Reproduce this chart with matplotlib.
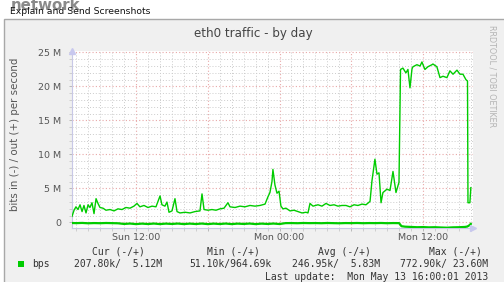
import matplotlib
matplotlib.use("Agg")
import matplotlib.pyplot as plt
from matplotlib.patches import Rectangle
from matplotlib.ticker import MultipleLocator, FixedLocator, FuncFormatter

# ---------------- data ----------------
# hours since Sun 00:00 ; values in Mbit/s
out_hours = [6.65, 6.82, 6.98, 7.15, 7.32, 7.49, 7.65, 7.82, 7.99, 8.15, 8.32, 8.49, 8.66,
             8.82, 8.99, 9.24, 9.49, 9.83, 10.16, 10.49, 10.83, 11.16, 11.50, 11.83, 12.08,
             12.33, 12.67, 13.00, 13.34, 13.67, 14.01, 14.17, 14.42, 14.59, 14.76, 15.01,
             15.26, 15.43, 15.68, 16.10, 16.52, 16.93, 17.35, 17.52, 17.69, 18.02, 18.35,
             18.69, 19.02, 19.36, 19.69, 19.86, 20.28, 20.70, 21.11, 21.53, 21.95, 22.37,
             22.79, 23.04, 23.20, 23.37, 23.45, 23.62, 23.79, 23.96, 24.12, 24.29, 24.54,
             24.88, 25.21, 25.55, 25.88, 26.21, 26.38, 26.55, 26.80, 27.22, 27.55, 27.89,
             28.22, 28.56, 28.89, 29.22, 29.56, 29.89, 30.23, 30.56, 30.90, 31.23, 31.57,
             31.73, 31.98, 32.15, 32.32, 32.49, 32.65, 32.99, 33.24, 33.49, 33.74, 33.99,
             34.12, 34.32, 34.57, 34.74, 34.91, 35.08, 35.16, 35.49, 35.75, 35.91, 36.16,
             36.41, 36.75, 36.83, 37.16, 37.42, 37.67, 38.00, 38.25, 38.51, 38.84, 39.09,
             39.34, 39.59, 39.72, 39.76, 39.92, 40.00]
out_mbps = [0.9, 1.8, 2.3, 1.9, 2.6, 1.6, 2.5, 1.4, 2.6, 2.2, 2.9, 1.3, 3.5,
            2.8, 2.2, 2.1, 1.8, 1.9, 1.7, 2.0, 1.9, 2.2, 2.1, 2.4, 2.8,
            2.3, 2.5, 2.2, 2.4, 2.3, 3.9, 2.6, 2.4, 3.0, 1.5, 1.7,
            3.5, 1.6, 1.4, 1.5, 1.4, 1.6, 1.7, 4.2, 1.9, 1.8, 1.9,
            1.8, 2.0, 2.1, 2.9, 2.3, 2.2, 2.4, 2.3, 2.5, 2.4, 2.5,
            2.7, 3.8, 4.4, 6.0, 7.8, 5.5, 4.3, 4.6, 2.4, 2.0, 2.1,
            1.7, 1.8, 1.6, 1.4, 1.5, 1.4, 2.8, 2.4, 2.6, 2.4, 2.8,
            2.5, 2.6, 2.4, 2.5, 2.5, 2.3, 2.6, 2.5, 2.7, 2.6, 3.1,
            6.1, 9.3, 7.1, 7.3, 2.9, 4.4, 4.9, 4.7, 7.5, 4.4, 5.9,
            22.5, 22.7, 22.0, 22.5, 19.8, 22.6, 22.9, 23.2, 23.0, 23.6, 22.5,
            22.9, 23.2, 23.3, 22.9, 21.3, 21.5, 21.3, 22.3, 21.8, 22.4, 21.8,
            21.8, 21.0, 20.8, 2.9, 2.9, 5.12]

in_hours = [6.65, 7.0, 7.5, 8.0, 8.5, 9.0, 9.5, 10.0, 10.5, 11.0, 11.5, 12.0, 12.5, 13.0,
            13.5, 14.0, 14.5, 15.0, 15.5, 16.0, 16.5, 17.0, 17.5, 18.0, 18.5, 19.0, 19.5,
            20.0, 20.5, 21.0, 21.5, 22.0, 22.5, 23.0, 23.5, 24.0, 24.5, 25.0, 25.5, 26.0,
            26.5, 27.0, 27.5, 28.0, 28.5, 29.0, 29.5, 30.0, 30.5, 31.0, 31.5, 32.0, 32.5,
            33.0, 33.5, 34.0, 34.2, 34.5, 35.0, 35.5, 36.0, 36.5, 37.0, 37.5, 38.0, 38.5,
            39.0, 39.5, 39.7, 39.85, 40.0]
in_mbps = [0.08, 0.10, 0.07, 0.12, 0.09, 0.11, 0.08, 0.10, 0.12, 0.22, 0.16, 0.24, 0.17, 0.23,
           0.16, 0.24, 0.17, 0.22, 0.16, 0.24, 0.17, 0.23, 0.16, 0.24, 0.17, 0.23, 0.16,
           0.24, 0.17, 0.22, 0.16, 0.24, 0.17, 0.22, 0.16, 0.23, 0.10, 0.09, 0.11, 0.08,
           0.10, 0.09, 0.11, 0.08, 0.10, 0.12, 0.09, 0.10, 0.08, 0.11, 0.09, 0.10, 0.08,
           0.11, 0.09, 0.10, 0.55, 0.62, 0.66, 0.70, 0.68, 0.72, 0.70, 0.74, 0.77, 0.72,
           0.70, 0.66, 0.60, 0.45, 0.21]

x_tick_hours = [12, 24, 36]
x_tick_labels = ["Sun 12:00", "Mon 00:00", "Mon 12:00"]
y_ticks = [0, 5, 10, 15, 20, 25]

legend_headers = ["Cur (-/+)", "Min (-/+)", "Avg (-/+)", "Max (-/+)"]
legend_values = ["207.80k/  5.12M", "51.10k/964.69k", "246.95k/  5.83M", "772.90k/ 23.60M"]
series_name = "bps"
last_update = "Last update:  Mon May 13 16:00:01 2013"

# ---------------- figure ----------------
W, H = 504, 282
fig = plt.figure(figsize=(W / 100, H / 100), dpi=100)
fig.patch.set_facecolor("white")

def fx(x):
    return x / W

def fy(y):
    return 1 - y / H

# grey graph box
fig.patches.append(Rectangle((fx(4), -0.1), 1.2, fy(19) + 0.1, transform=fig.transFigure,
                             facecolor="#F0F0F0", edgecolor="#A8A8A8", lw=1.0, zorder=-10))

GREEN = "#00CC00"
ax = fig.add_axes([fx(72), fy(227.9), fx(473) - fx(72), (227.9 - 51.1) / H])
ax.set_zorder(5)
ax.set_facecolor("white")
ax.plot(out_hours, out_mbps, color=GREEN, lw=1.0, zorder=3)
ax.plot(in_hours, [-v for v in in_mbps], color=GREEN, lw=1.6, zorder=3)
ax.set_xlim(6.649, 40.18)
ax.set_ylim(-0.8, 25.2)

# grid
ax.xaxis.set_major_locator(MultipleLocator(6))
ax.xaxis.set_minor_locator(MultipleLocator(1))
ax.yaxis.set_major_locator(FixedLocator(y_ticks))
ax.yaxis.set_minor_locator(MultipleLocator(1))
ax.grid(which="minor", color="#CCCCCC", linestyle=(0, (1, 2)), lw=0.7, zorder=1)
ax.grid(which="major", color="#E8A8A8", linestyle=(0, (1, 2)), lw=0.8, zorder=2)
ax.set_axisbelow(True)

lab = dict(zip(x_tick_hours, x_tick_labels))
ax.xaxis.set_major_formatter(FuncFormatter(lambda v, p: lab.get(int(round(v)), "")))
ax.yaxis.set_major_formatter(FuncFormatter(lambda v, p: "0" if v == 0 else f"{int(v)} M"))
ax.tick_params(axis="both", which="major", labelsize=6.8, labelcolor="#555555",
               color="#B0B0B0", length=2.5, width=0.6)
ax.tick_params(axis="both", which="minor", color="#C0C0C0", length=2, width=0.5)
ax.tick_params(axis="x", which="major", pad=1)
ax.tick_params(axis="y", which="major", pad=5.5)

for s in ["top", "right"]:
    ax.spines[s].set_visible(False)
for s in ["left", "bottom"]:
    ax.spines[s].set_color("#C8C8E6")
    ax.spines[s].set_linewidth(0.8)
ax.plot([1.0], [0.0], marker=">", ms=4, color="#C8C8EE", transform=ax.transAxes, clip_on=False, zorder=5)
ax.plot([0.0], [1.0], marker="^", ms=4, color="#C8C8EE", transform=ax.transAxes, clip_on=False, zorder=5)

# texts
fig.text(fx(11), fy(9.5), "network", fontsize=10.8, fontweight="bold", color="#8A8A8A",
         ha="left", va="baseline")
fig.text(fx(10), fy(14), "Explain and Send Screenshots", fontsize=6.7, color="#111111",
         ha="left", va="baseline")
fig.text(fx(253), fy(33), "eth0 traffic - by day", fontsize=8.6, color="#444444",
         ha="center", va="center")
fig.text(fx(15), fy(134), "bits in (-) / out (+) per second", fontsize=7.4, color="#555555",
         rotation=90, ha="center", va="center")
fig.text(fx(492), fy(25), "RRDTOOL / TOBI OETIKER", fontsize=5.8, color="#B4B4B4",
         rotation=270, ha="center", va="top")

mono = "DejaVu Sans Mono"
hdr_x = [118.5, 233, 344, 455]
for t, x in zip(legend_headers, hdr_x):
    fig.text(fx(x), fy(252), t, fontsize=7.0, family=mono, color="#333333", ha="center", va="center")
val_right = [162, 272, 380, 488]
for t, x in zip(legend_values, val_right):
    fig.text(fx(x), fy(264), t, fontsize=7.0, family=mono, color="#333333", ha="right", va="center")
fig.patches.append(Rectangle((fx(18), fy(266.5)), 6 / W, 6 / H, transform=fig.transFigure,
                             facecolor=GREEN, edgecolor="none", zorder=3))
fig.text(fx(32), fy(264), series_name, fontsize=7.0, family=mono, color="#333333", ha="left", va="center")
fig.text(fx(488), fy(276.5), last_update, fontsize=7.0, family=mono, color="#333333", ha="right", va="center")

fig.savefig("out.png", dpi=100, facecolor="white")
